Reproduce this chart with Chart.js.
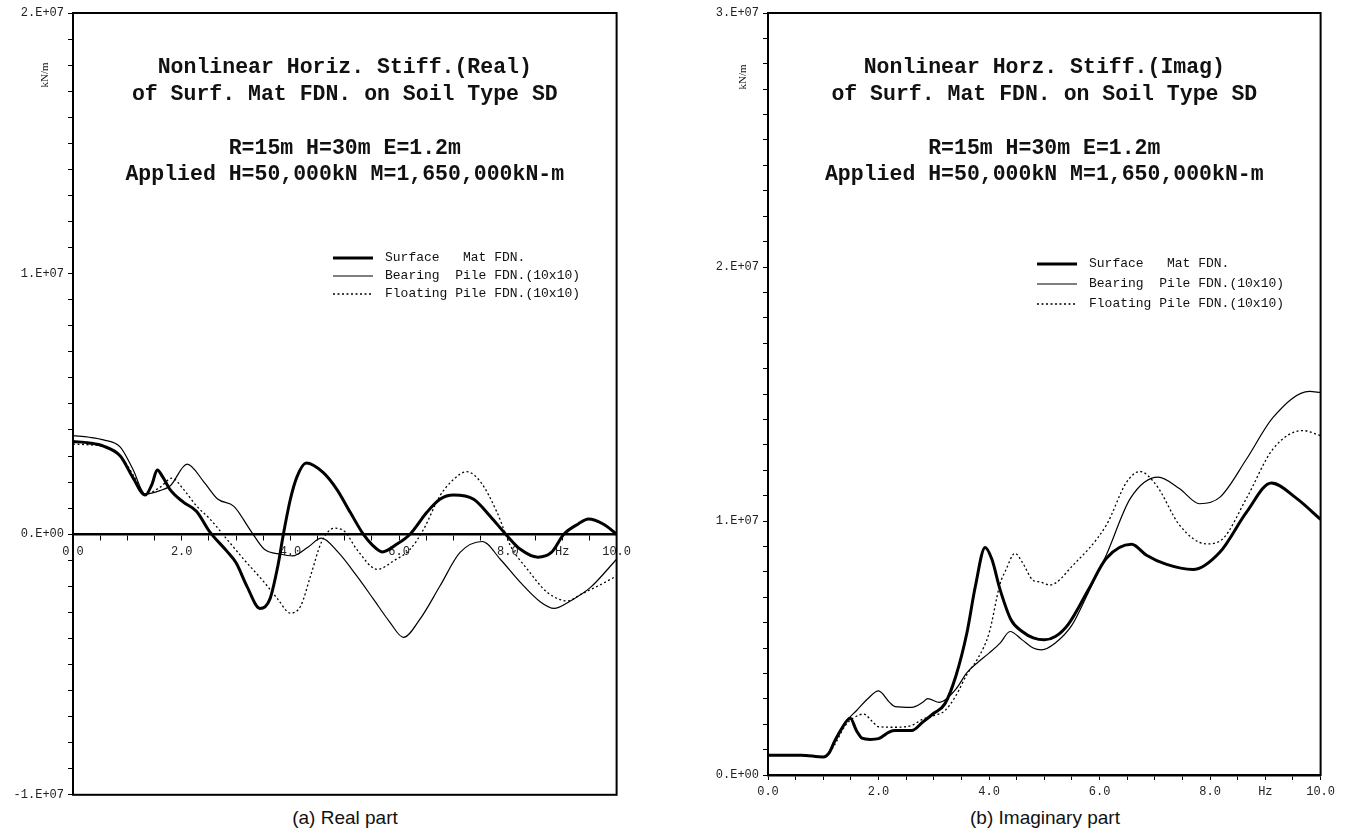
<!DOCTYPE html>
<html>
<head>
<meta charset="utf-8">
<title>Nonlinear Horizontal Stiffness - Surface Mat FDN.</title>
<script src="https://cdn.jsdelivr.net/npm/chart.js@4.4.1/dist/chart.umd.min.js"></script>
<style>
  html, body { margin:0; padding:0; background:#fff; }
  body { width:1351px; height:836px; position:relative; overflow:hidden; }
  .box { position:absolute; top:0; }
  #box-real { left:0; width:636px; height:806px; }
  #box-imag { left:695px; width:645px; height:800px; }
  .caption {
    position:absolute; top:807px; transform:translateX(-50%); white-space:nowrap;
    font-family:"Liberation Sans Narrow","Liberation Sans",Arial,sans-serif;
    font-size:19px; color:#111;
  }
</style>
</head>
<body>
<div class="box" id="box-real"><canvas id="chart-real"></canvas></div>
<div class="box" id="box-imag"><canvas id="chart-imag"></canvas></div>
<div class="caption" style="left:345px">(a) Real part</div>
<div class="caption" style="left:1045px">(b) Imaginary part</div>

<script>
// valores en unidades de 1.0E+06 kN/m, frecuencia en Hz
// ---- (a) parte real ----
const realSurfF = [0, 0.3, 0.56, 0.87, 1.1, 1.33, 1.45, 1.55, 1.65, 1.79, 2.03, 2.27, 2.52, 2.83, 3.0, 3.2, 3.44, 3.62, 3.77, 3.87, 4.0, 4.12, 4.29, 4.6, 4.85, 5.1, 5.34, 5.5, 5.69, 5.96, 6.2, 6.51, 6.75, 7.0, 7.37, 7.67, 7.96, 8.23, 8.55, 8.8, 9.03, 9.3, 9.48, 9.76, 10.0];
const realSurfV = [3.56, 3.5, 3.38, 3.0, 2.18, 1.5, 1.9, 2.46, 2.2, 1.7, 1.23, 0.88, 0.08, -0.65, -1.1, -2.0, -2.85, -2.5, -1.2, 0, 1.35, 2.2, 2.73, 2.37, 1.73, 0.84, 0, -0.4, -0.68, -0.38, 0, 0.84, 1.34, 1.5, 1.34, 0.7, 0, -0.58, -0.88, -0.7, 0, 0.4, 0.58, 0.38, 0];

const realBearF = [0, 0.3, 0.56, 0.87, 1.1, 1.33, 1.6, 1.79, 2.1, 2.41, 2.66, 2.96, 3.27, 3.52, 3.83, 4.04, 4.32, 4.57, 4.88, 5.22, 5.53, 5.83, 6.08, 6.38, 6.75, 7.12, 7.53, 7.86, 8.23, 8.6, 8.85, 9.15, 9.52, 10.0];
const realBearV = [3.78, 3.72, 3.62, 3.34, 2.5, 1.54, 1.67, 1.86, 2.69, 2.0, 1.35, 1.07, 0.13, -0.58, -0.77, -0.83, -0.5, -0.15, -0.7, -1.6, -2.5, -3.38, -3.96, -3.27, -1.99, -0.7, -0.28, -0.96, -1.85, -2.6, -2.85, -2.56, -2.04, -0.96];

const realFloatF = [0, 0.3, 0.56, 0.87, 1.1, 1.33, 1.6, 1.82, 2.03, 2.27, 2.52, 2.83, 3.14, 3.52, 3.77, 4.0, 4.19, 4.37, 4.57, 4.81, 5.0, 5.22, 5.6, 5.9, 6.2, 6.45, 6.75, 7.0, 7.24, 7.5, 7.8, 8.05, 8.36, 8.73, 9.1, 9.35, 9.72, 10.0];
const realFloatV = [3.46, 3.43, 3.37, 3.0, 2.3, 1.54, 1.8, 2.15, 1.73, 1.09, 0.58, -0.19, -0.96, -1.85, -2.5, -3.03, -2.75, -1.6, -0.31, 0.23, 0.1, -0.58, -1.35, -1.02, -0.58, 0.19, 1.47, 2.1, 2.4, 2.0, 0.84, -0.45, -1.35, -2.24, -2.56, -2.3, -1.92, -1.6];

// ---- (b) parte imaginaria ----
const imagSurfF = [0, 0.6, 1.0, 1.1, 1.2, 1.3, 1.49, 1.6, 1.7, 1.85, 2.0, 2.2, 2.3, 2.6, 2.8, 3.0, 3.2, 3.4, 3.6, 3.75, 3.93, 4.05, 4.2, 4.4, 4.6, 4.8, 5.0, 5.2, 5.43, 5.8, 6.12, 6.58, 6.85, 7.2, 7.69, 8.18, 8.66, 9.11, 9.56, 10.0];
const imagSurfV = [0.78, 0.78, 0.71, 0.85, 1.3, 1.7, 2.23, 1.75, 1.45, 1.4, 1.43, 1.7, 1.75, 1.75, 2.08, 2.43, 2.8, 3.9, 5.6, 7.4, 8.96, 8.5, 7.3, 6.1, 5.65, 5.4, 5.32, 5.45, 5.92, 7.3, 8.52, 9.08, 8.65, 8.3, 8.09, 8.78, 10.35, 11.5, 10.9, 10.06];

const imagBearF = [0, 0.6, 1.0, 1.1, 1.2, 1.4, 1.6, 1.8, 2.0, 2.2, 2.3, 2.6, 2.8, 2.89, 3.1, 3.4, 3.6, 3.8, 4.0, 4.2, 4.38, 4.6, 4.8, 4.95, 5.2, 5.5, 5.8, 6.12, 6.56, 7.06, 7.45, 7.81, 8.18, 8.66, 9.14, 9.8, 10.0];
const imagBearV = [0.78, 0.78, 0.71, 0.85, 1.36, 2.08, 2.53, 2.99, 3.31, 2.86, 2.69, 2.66, 2.86, 3.01, 2.86, 3.38, 4.03, 4.44, 4.8, 5.19, 5.65, 5.32, 5.0, 4.93, 5.2, 5.9, 7.2, 8.65, 10.9, 11.73, 11.27, 10.68, 10.94, 12.44, 14.08, 15.1, 15.06];

const imagFloatF = [0, 0.6, 1.0, 1.1, 1.2, 1.4, 1.55, 1.73, 1.9, 2.0, 2.3, 2.6, 2.8, 3.0, 3.2, 3.4, 3.6, 3.8, 4.0, 4.2, 4.3, 4.47, 4.6, 4.8, 4.92, 5.1, 5.52, 6.12, 6.49, 6.73, 7.03, 7.45, 7.93, 8.23, 8.66, 9.14, 9.68, 10.0];
const imagFloatV = [0.78, 0.78, 0.71, 0.85, 1.17, 1.95, 2.25, 2.4, 2.08, 1.9, 1.88, 1.95, 2.2, 2.34, 2.53, 3.12, 3.96, 4.6, 5.58, 7.53, 8.05, 8.73, 8.38, 7.66, 7.6, 7.48, 8.26, 9.83, 11.53, 11.95, 11.4, 9.83, 9.1, 9.3, 10.9, 12.84, 13.56, 13.36];

// textos
const seriesLabels = ['Surface   Mat FDN.', 'Bearing  Pile FDN.(10x10)', 'Floating Pile FDN.(10x10)'];
const titleReal = ['Nonlinear Horiz. Stiff.(Real)', 'of Surf. Mat FDN. on Soil Type SD', '', 'R=15m H=30m E=1.2m', 'Applied H=50,000kN M=1,650,000kN-m'];
const titleImag = ['Nonlinear Horz. Stiff.(Imag)', 'of Surf. Mat FDN. on Soil Type SD', '', 'R=15m H=30m E=1.2m', 'Applied H=50,000kN M=1,650,000kN-m'];
const xTickLabels = { 0: '0.0', 2: '2.0', 4: '4.0', 6: '6.0', 8: '8.0', 9: 'Hz', 10: '10.0' };

const MONO = '"Liberation Mono", "DejaVu Sans Mono", monospace';

function pts(xs, ys){ return xs.map((x, i) => ({ x, y: ys[i] })); }

// 10 -> "1.E+07", 0 -> "0.E+00"
function expLabel(v){
  if (Math.abs(v) < 1e-9) return '0.E+00';
  if (Math.abs(v % 10) > 1e-9) return '';
  return `${Math.round(v / 10)}.E+07`;
}

/* --------- plugin: marco, títulos, leyenda, unidades --------- */
const decoPlugin = {
  id: 'deco',
  afterDraw(chart, args, o){
    const { ctx, chartArea: a } = chart;
    ctx.save();
    ctx.strokeStyle = '#000';
    ctx.lineWidth = 2;
    ctx.strokeRect(a.left, a.top, a.right - a.left, a.bottom - a.top);

    const cx = (a.left + a.right) / 2;
    ctx.fillStyle = '#111';
    ctx.textAlign = 'center';
    ctx.textBaseline = 'middle';
    ctx.font = `bold 21.5px ${MONO}`;
    o.title.forEach((t, i) => { if (t) ctx.fillText(t, cx, o.titleY[i]); });

    // leyenda
    ctx.font = `13px ${MONO}`;
    ctx.textAlign = 'left';
    chart.data.datasets.forEach((ds, i) => {
      const y = o.legendY + i * o.legendGap;
      ctx.beginPath();
      ctx.lineWidth = ds.borderWidth;
      ctx.setLineDash(ds.borderDash || []);
      ctx.moveTo(o.legendX, y);
      ctx.lineTo(o.legendX + 40, y);
      ctx.stroke();
      ctx.setLineDash([]);
      ctx.fillText(ds.label, o.legendX + 52, y);
    });

    // kN/m
    ctx.translate(o.unitX, o.unitY);
    ctx.rotate(-Math.PI / 2);
    ctx.textAlign = 'center';
    ctx.font = '11px "Liberation Serif", serif';
    ctx.fillText('kN/m', 0, 0);
    ctx.restore();
  }
};

function makeDatasets(surf, bear, flt){
  const base = { pointRadius: 0, borderColor: '#000', cubicInterpolationMode: 'monotone', fill: false };
  return [
    { ...base, label: seriesLabels[0], data: surf, borderWidth: 3 },
    { ...base, label: seriesLabels[1], data: bear, borderWidth: 1.2 },
    { ...base, label: seriesLabels[2], data: flt, borderWidth: 1.3, borderDash: [2, 2.5] }
  ];
}

function xScale(extra){
  return Object.assign({
    type: 'linear', min: 0, max: 10,
    grid: { drawOnChartArea: false, drawTicks: true, tickLength: 5, color: '#000', lineWidth: 1 },
    border: { display: true, color: '#000', width: 2.5 },
    ticks: {
      stepSize: 0.5, autoSkip: false, maxRotation: 0, padding: 5,
      color: '#222', font: { family: MONO, size: 12 },
      callback: v => xTickLabels[v] ?? ''
    }
  }, extra);
}

function yScale(min, max){
  return {
    type: 'linear', min, max,
    afterFit: s => { s.width = 73; },
    grid: { drawOnChartArea: false, drawTicks: true, tickLength: 5, color: '#000', lineWidth: 1 },
    border: { display: true, color: '#000', width: 2 },
    ticks: {
      stepSize: 1, autoSkip: false, padding: 4,
      color: '#222', font: { family: MONO, size: 12 },
      callback: v => expLabel(v)
    }
  };
}

function baseOptions(){
  return {
    responsive: true,
    maintainAspectRatio: false,
    animation: false,
    plugins: { legend: { display: false }, tooltip: { enabled: false } }
  };
}

window.addEventListener('DOMContentLoaded', () => {
  // (a) Real
  const optA = baseOptions();
  optA.layout = { padding: { top: 13, right: 14, bottom: 5, left: 0 } };
  optA.scales = {
    x: xScale({ position: { y: 0 } }),
    y: yScale(-10, 20)
  };
  optA.plugins.deco = { title: titleReal, titleY: [68, 95, 0, 149, 175], legendX: 333, legendY: 258, legendGap: 18, unitX: 45, unitY: 75 };
  new Chart($('#chart-real'), {
    type: 'line',
    data: { datasets: makeDatasets(pts(realSurfF, realSurfV), pts(realBearF, realBearV), pts(realFloatF, realFloatV)) },
    options: optA,
    plugins: [decoPlugin]
  });

  // (b) Imag
  const optB = baseOptions();
  optB.layout = { padding: { top: 13, right: 19, bottom: 0, left: 0 } };
  optB.scales = {
    x: xScale({ position: 'bottom', afterFit: s => { s.height = 25; } }),
    y: yScale(0, 30)
  };
  optB.plugins.deco = { title: titleImag, titleY: [68, 95, 0, 149, 175], legendX: 342, legendY: 264, legendGap: 20, unitX: 48, unitY: 77 };
  new Chart($('#chart-imag'), {
    type: 'line',
    data: { datasets: makeDatasets(pts(imagSurfF, imagSurfV), pts(imagBearF, imagBearV), pts(imagFloatF, imagFloatV)) },
    options: optB,
    plugins: [decoPlugin]
  });
});

function $(sel){ return document.querySelector(sel); }
</script>
</body>
</html>
